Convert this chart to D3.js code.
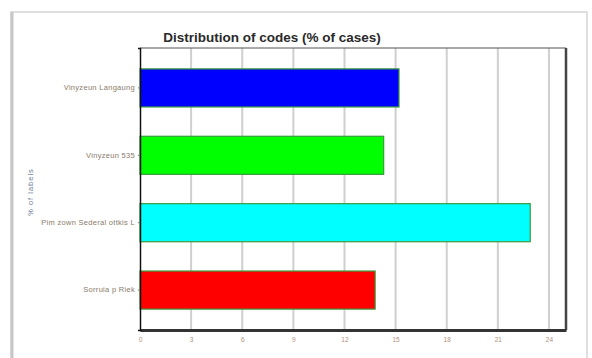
<!DOCTYPE html>
<html>
<head>
<meta charset="utf-8">
<script src="https://cdn.jsdelivr.net/npm/d3@7"></script>
<style>
  html, body { margin: 0; padding: 0; background: #ffffff; }
  svg { display: block; font-family: "Liberation Sans", Arial, sans-serif; }
</style>
</head>
<body>
<svg id="chart" width="592" height="358"></svg>
<script>
// Share of cases per code
const categories = ["Vinyzeun Langaung", "Vinyzeun 535", "Pim zown Sederal ottkis L", "Sorruia p Riek"];
const values = [15.2, 14.3, 22.9, 13.8];
const barColors = ["#0000ff", "#00ff00", "#00ffff", "#ff0000"];
const tickValues = [0, 3, 6, 9, 12, 15, 18, 21, 24];

const svg = d3.select("#chart");

// Outer panel
svg.append("rect")
  .attr("x", 11).attr("y", 12).attr("width", 576).attr("height", 360)
  .attr("fill", "#fff").attr("stroke", "#d6d6d6").attr("stroke-width", 1.5);
svg.append("line")
  .attr("x1", 12).attr("x2", 12).attr("y1", 12).attr("y2", 358)
  .attr("stroke", "#c8c8c8").attr("stroke-width", 3);

const plot = { left: 140, right: 566, top: 48, bottom: 330 };

const x = d3.scaleLinear().domain([0, 25]).range([plot.left, plot.right]);
const y = d3.scaleBand().domain(categories)
  .range([plot.top, plot.bottom])
  .paddingInner(0.435).paddingOuter(0.31);

// Title
svg.append("text")
  .attr("x", 272).attr("y", 42)
  .attr("text-anchor", "middle")
  .attr("font-size", 13.5).attr("font-weight", "bold")
  .attr("fill", "#2a2a2a")
  .text("Distribution of codes (% of cases)");

// Vertical grid lines
svg.append("g").selectAll("line")
  .data(tickValues.slice(1))
  .join("line")
  .attr("x1", d => x(d)).attr("x2", d => x(d))
  .attr("y1", plot.top).attr("y2", plot.bottom)
  .attr("stroke", "#cfcfcf").attr("stroke-width", 2);

// Bars
svg.append("g").selectAll("rect")
  .data(categories)
  .join("rect")
  .attr("x", x(0))
  .attr("y", d => y(d))
  .attr("width", (d, i) => x(values[i]) - x(0))
  .attr("height", y.bandwidth())
  .attr("fill", (d, i) => barColors[i])
  .attr("stroke", "#3a9a3a").attr("stroke-width", 1.2);

// Plot frame: thin top, darker right and bottom edges
svg.append("line")
  .attr("x1", plot.left).attr("x2", plot.right)
  .attr("y1", plot.top).attr("y2", plot.top)
  .attr("stroke", "#555").attr("stroke-width", 1);
svg.append("line")
  .attr("x1", plot.right).attr("x2", plot.right)
  .attr("y1", plot.top).attr("y2", plot.bottom)
  .attr("stroke", "#444").attr("stroke-width", 2.5);

// X axis
const xAxis = svg.append("g")
  .attr("transform", `translate(0,${plot.bottom})`)
  .call(d3.axisBottom(x).tickValues(tickValues).tickSize(0).tickPadding(7));
xAxis.select(".domain").attr("stroke", "#333").attr("stroke-width", 3);
xAxis.selectAll("text").attr("font-size", 6.5).attr("fill", "#b09080");

// Y axis
const yAxis = svg.append("g")
  .attr("transform", `translate(${plot.left},0)`)
  .call(d3.axisLeft(y).tickSize(2).tickPadding(3));
yAxis.select(".domain").attr("stroke", "#111").attr("stroke-width", 1.5);
yAxis.selectAll(".tick line").attr("stroke", "#777");
yAxis.selectAll("text").attr("font-size", 7.5).attr("letter-spacing", 0.3).attr("fill", "#8a7a6a");

// Y axis title
svg.append("text")
  .attr("transform", "translate(33,192) rotate(-90)")
  .attr("text-anchor", "middle")
  .attr("font-size", 7.5).attr("letter-spacing", 1).attr("fill", "#6a7a9a")
  .text("% of labels");
</script>
</body>
</html>
